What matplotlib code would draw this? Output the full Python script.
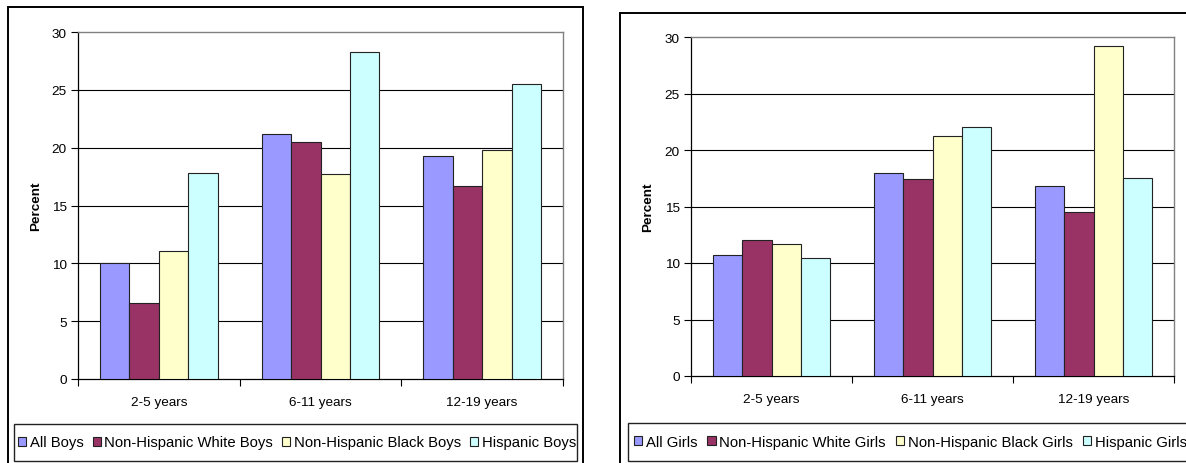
import matplotlib
matplotlib.use("Agg")
import matplotlib.pyplot as plt
from matplotlib.patches import Rectangle, Patch
import numpy as np

plt.rcParams['font.family'] = ['Liberation Sans', 'DejaVu Sans']

categories = ["2-5 years", "6-11 years", "12-19 years"]

boys_series = ["All Boys", "Non-Hispanic White Boys", "Non-Hispanic Black Boys", "Hispanic Boys"]
boys_all = [10.0, 21.2, 19.3]
boys_white = [6.6, 20.5, 16.7]
boys_black = [11.1, 17.7, 19.8]
boys_hisp = [17.8, 28.3, 25.5]

girls_series = ["All Girls", "Non-Hispanic White Girls", "Non-Hispanic Black Girls", "Hispanic Girls"]
girls_all = [10.7, 18.0, 16.8]
girls_white = [12.0, 17.4, 14.5]
girls_black = [11.7, 21.2, 29.2]
girls_hisp = [10.4, 22.0, 17.5]

colors = ["#9999FF", "#993366", "#FFFFCC", "#CCFFFF"]
yticks = [0, 5, 10, 15, 20, 25, 30]

W, H = 1186, 464
fig = plt.figure(figsize=(W / 100, H / 100), dpi=100)


def fx(x):
    return x / W


def fy(y):
    return 1 - y / H


def rect_px(x0, y0, x1, y1, lw=1.2, ec="black"):
    fig.patches.append(Rectangle((fx(x0), fy(y1)), fx(x1 - x0), (y1 - y0) / H,
                                 transform=fig.transFigure, fill=False,
                                 edgecolor=ec, linewidth=lw, zorder=0))


def draw_chart(ax_px, series_names, data, ylabel_x, legend_box, legend_anchor, colspacing):
    x0, y0, x1, y1 = ax_px
    ax = fig.add_axes([fx(x0), fy(y1), fx(x1 - x0), (y1 - y0) / H])
    n = len(data)
    w = 1 / 5.5
    centers = np.arange(len(categories)) + 0.5
    for i, vals in enumerate(data):
        ax.bar(centers + (i - (n - 1) / 2) * w, vals, width=w, color=colors[i],
               edgecolor="#222222", linewidth=0.8, zorder=3)
    ax.set_xlim(0, len(categories))
    ax.set_ylim(0, 30)
    ax.set_yticks(yticks)
    ax.set_yticklabels([str(t) for t in yticks], fontsize=9.7)
    for t in yticks[1:-1]:
        ax.axhline(t, color="black", linewidth=0.8, zorder=1)
    ax.set_xticks(centers)
    ax.set_xticklabels(categories, fontsize=9.7)
    ax.set_xticks(np.arange(len(categories) + 1), minor=True)
    ax.tick_params(axis="x", which="major", length=0, pad=12)
    ax.tick_params(axis="x", which="minor", length=5, width=0.8, direction="out")
    ax.tick_params(axis="y", length=5, width=0.8, direction="out", pad=3)
    for s in ["top", "right"]:
        ax.spines[s].set_color("#808080")
        ax.spines[s].set_linewidth(1.0)
    for s in ["left", "bottom"]:
        ax.spines[s].set_color("black")
        ax.spines[s].set_linewidth(0.9)
    fig.text(fx(ylabel_x), fy((y0 + y1) / 2), "Percent", rotation=90,
             fontsize=9.7, fontweight="bold", ha="center", va="center")
    lx0, ly0, lx1, ly1 = legend_box
    rect_px(lx0, ly0, lx1, ly1, lw=1.0, ec="#222222")
    handles = [Patch(facecolor=colors[i], edgecolor="#222222", linewidth=0.8,
                     label=series_names[i]) for i in range(n)]
    fig.legend(handles=handles, loc="center left",
               bbox_to_anchor=(fx(legend_anchor), fy((ly0 + ly1) / 2)),
               ncol=n, frameon=False, fontsize=10.7, handlelength=0.55,
               handleheight=0.55, handletextpad=0.25, columnspacing=colspacing,
               borderaxespad=0, borderpad=0)
    return ax


# outer borders
rect_px(7.5, 8, 583, 475, lw=1.4)
rect_px(619.5, 14, 1200, 475, lw=1.4)

draw_chart((78, 33, 563, 380), boys_series, [boys_all, boys_white, boys_black, boys_hisp],
           36, (14, 425, 577, 462), 18, 0.6)
draw_chart((691, 38, 1174, 377), girls_series, [girls_all, girls_white, girls_black, girls_hisp],
           648, (628, 424, 1200, 462), 634, 0.68)

fig.savefig("out.png", dpi=100)
